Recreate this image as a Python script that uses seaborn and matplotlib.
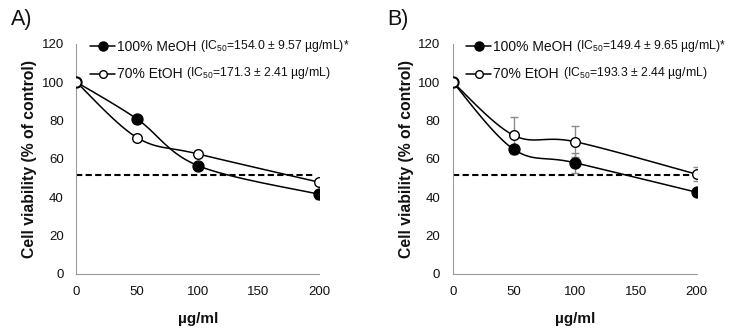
import numpy as np
import pandas as pd
import matplotlib
matplotlib.use("Agg")
import matplotlib.pyplot as plt
from matplotlib.lines import Line2D
import seaborn as sns

# Concentrations (µg/ml) and viability (% of control), mean and error
conc = [0, 50, 100, 200]

a_meoh = [100.0, 80.7, 56.4, 41.4]
a_meoh_err = [0.0, 1.5, 1.5, 2.5]
a_etoh = [100.0, 71.0, 62.5, 47.7]
a_etoh_err = [0.0, 1.0, 1.0, 1.5]

b_meoh = [100.0, 64.9, 57.9, 42.5]
b_meoh_err = [0.0, 1.5, 5.2, 1.5]
b_etoh = [100.0, 72.2, 68.9, 51.9]
b_etoh_err = [0.0, 9.6, 8.2, 3.7]

ic50_line = 51.5
ic50_span = [0, 195]

panel_titles = ["A)", "B)"]
series_names = ["100% MeOH", "70% EtOH"]
a_ic50_text = [r"(IC$_{50}$=154.0 ± 9.57 µg/mL)*", r"(IC$_{50}$=171.3 ± 2.41 µg/mL)"]
b_ic50_text = [r"(IC$_{50}$=149.4 ± 9.65 µg/mL)*", r"(IC$_{50}$=193.3 ± 2.44 µg/mL)"]

x_ticks = [0, 50, 100, 150, 200]
y_ticks = [0, 20, 40, 60, 80, 100, 120]

sns.set_theme(style="white")
plt.rcParams["font.family"] = ["Liberation Sans", "DejaVu Sans"]
plt.rcParams["mathtext.fontset"] = "custom"
plt.rcParams["mathtext.rm"] = "Liberation Sans"
plt.rcParams["mathtext.it"] = "Liberation Sans:italic"

AXIS_GREY = "#9a9a9a"
TEXT = "#111111"


def smooth_curve(x, y, sx, sy, n=40):
    """Catmull-Rom curve through the points, evaluated in screen-like units."""
    P = np.column_stack([np.asarray(x, float) * sx, np.asarray(y, float) * sy])
    P = np.vstack([P[0], P, P[-1]])
    t = np.linspace(0, 1, n)[:, None]
    segs = []
    for i in range(1, len(P) - 2):
        p0, p1, p2, p3 = P[i - 1], P[i], P[i + 1], P[i + 2]
        seg = 0.5 * (2 * p1 + (-p0 + p2) * t
                     + (2 * p0 - 5 * p1 + 4 * p2 - p3) * t ** 2
                     + (-p0 + 3 * p1 - 3 * p2 + p3) * t ** 3)
        segs.append(seg)
    pts = np.vstack(segs)
    return pts[:, 0] / sx, pts[:, 1] / sy


fig = plt.figure(figsize=(7.34, 3.32), dpi=100)
W, H = 734, 332
ax_a = fig.add_axes([76.3 / W, 58.3 / H, 243.0 / W, 230.0 / H])
ax_b = fig.add_axes([452.7 / W, 58.3 / H, 244.0 / W, 230.0 / H])

panels = [
    (ax_a, a_meoh, a_meoh_err, a_etoh, a_etoh_err, a_ic50_text, panel_titles[0], 11),
    (ax_b, b_meoh, b_meoh_err, b_etoh, b_etoh_err, b_ic50_text, panel_titles[1], 387),
]

for ax, meoh, meoh_err, etoh, etoh_err, ic_texts, title, title_x in panels:
    sx, sy = 243.0 / 200.0, 230.0 / 120.0

    # threshold line
    ax.plot(ic50_span, [ic50_line, ic50_line], color="black", lw=1.5,
            ls=(0, (3.0, 1.6)), zorder=2)

    # error bars
    ax.errorbar(conc, etoh, yerr=etoh_err, fmt="none", ecolor="#8a8a8a",
                elinewidth=1.0, capsize=3, capthick=1.0, zorder=3)
    ax.errorbar(conc, meoh, yerr=meoh_err, fmt="none", ecolor="#8a8a8a",
                elinewidth=1.0, capsize=3, capthick=1.0, zorder=3)

    # smoothed connecting lines
    for vals in (meoh, etoh):
        xs, ys = smooth_curve(conc, vals, sx, sy)
        ax.plot(xs, ys, color="black", lw=1.1, zorder=4)

    df = pd.DataFrame({"conc": conc * 2,
                       "viability": list(meoh) + list(etoh),
                       "extract": [series_names[0]] * 4 + [series_names[1]] * 4})
    sns.scatterplot(data=df[df.extract == series_names[0]], x="conc", y="viability",
                    ax=ax, s=62, color="black", edgecolor="black", linewidth=1.0,
                    zorder=5, legend=False)
    sns.scatterplot(data=df[df.extract == series_names[1]], x="conc", y="viability",
                    ax=ax, s=48, color="white", edgecolor="black", linewidth=1.0,
                    zorder=6, legend=False)

    ax.set_xlim(0, 200)
    ax.set_ylim(0, 120)
    ax.set_xticks(x_ticks)
    ax.set_yticks(y_ticks)
    ax.set_xticklabels([str(v) for v in x_ticks])
    ax.set_yticklabels([str(v) for v in y_ticks])
    ax.tick_params(axis="both", which="both", direction="out", length=3.5, width=0.8,
                   color=AXIS_GREY, labelsize=9.5, labelcolor=TEXT, pad=5.5)
    for side in ("top", "right"):
        ax.spines[side].set_visible(False)
    for side in ("left", "bottom"):
        ax.spines[side].set_color(AXIS_GREY)
        ax.spines[side].set_linewidth(0.8)
    ax.set_xlabel("µg/ml", fontsize=11, fontweight="bold", color=TEXT, labelpad=10)
    ax.set_ylabel("Cell viability (% of control)", fontsize=11.3, fontweight="bold",
                  color=TEXT, labelpad=3)

    fig.text(title_x / W, 1 - 19 / H, title, fontsize=15.5, color=TEXT,
             ha="left", va="center")

    handles = [
        Line2D([0], [0], color="black", lw=1.1, marker="o", markersize=6.5,
               markerfacecolor="black", markeredgecolor="black"),
        Line2D([0], [0], color="black", lw=1.1, marker="o", markersize=5.5,
               markerfacecolor="white", markeredgecolor="black"),
    ]
    leg = ax.legend(handles, series_names, loc="upper left",
                    bbox_to_anchor=(0.045, 1.027), frameon=False, fontsize=10,
                    handlelength=1.8, handletextpad=0.12, labelspacing=0.95,
                    borderpad=0.2, borderaxespad=0.0)
    for t in leg.get_texts():
        t.set_color(TEXT)

    fig.canvas.draw()
    renderer = fig.canvas.get_renderer()
    for t, extra in zip(leg.get_texts(), ic_texts):
        bb = t.get_window_extent(renderer)
        fig.text((bb.x1 + 4) / W, (bb.y0 + bb.y1) / 2 / H + 1.5 / H, extra,
                 fontsize=8.8, color=TEXT, ha="left", va="center")

fig.savefig("out.png", dpi=100)
